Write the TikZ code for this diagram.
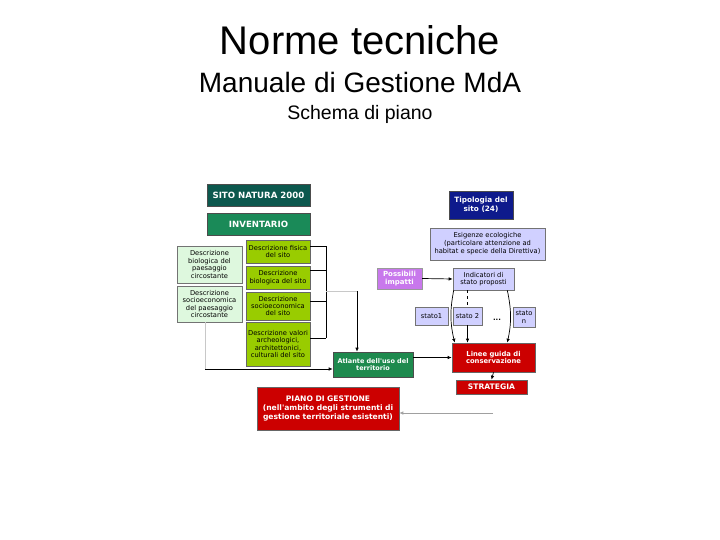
\documentclass[tikz,border=0pt]{standalone}
\usepackage{fontspec}
\setmainfont{Liberation Sans}
\newfontfamily\boxfont{DejaVu Sans}
\usetikzlibrary{positioning,arrows.meta}
\definecolor{sitoteal}{RGB}{12,88,78}
\definecolor{inventgreen}{RGB}{26,138,88}
\definecolor{mintfill}{RGB}{222,248,222}
\definecolor{limefill}{RGB}{153,204,0}
\definecolor{atlgreen}{RGB}{30,138,78}
\definecolor{pianored}{RGB}{204,0,0}
\definecolor{navyfill}{RGB}{14,26,140}
\definecolor{lavfill}{RGB}{208,208,255}
\definecolor{violetfill}{RGB}{200,120,236}
\definecolor{faintgray}{RGB}{200,200,200}
\newcommand{\smallfont}{\boxfont\fontsize{6.7}{7.4}\selectfont}
\newcommand{\boldfont}[1]{\boxfont\bfseries\fontsize{#1}{#1}\selectfont}

\begin{document}
\begin{tikzpicture}[x=1pt,y=-1pt]
	\useasboundingbox (0,0) rectangle (720,540);
	\tikzstyle{every node}=[inner sep=0.5pt, align=center]
	\draw (360,55) node (title) [anchor=base, font=\fontsize{40}{44}\selectfont]{Norme tecniche};
	\draw (360,92.5) node (subtitle) [anchor=base, font=\fontsize{28}{32}\selectfont]{Manuale di Gestione MdA};
	\draw (360,120) node (schema) [anchor=base, font=\fontsize{19.5}{22}\selectfont]{Schema di piano};
	\tikzstyle{darkbox}=[draw=black!70, text=white, line width=0.6pt]
	\tikzstyle{minibox}=[draw=black!55, fill=mintfill, font=\smallfont, line width=0.6pt]
	\tikzstyle{limebox}=[draw=black!60, fill=limefill, font=\smallfont, line width=0.6pt, minimum width=64pt, text width=63pt]
	\tikzstyle{lavbox}=[draw=black!55, fill=lavfill, font=\smallfont, line width=0.6pt]
	\tikzstyle{redbox}=[draw=black!60, fill=pianored, text=white, line width=0.6pt]
	\draw (258.5,195) node (sito) [darkbox, fill=sitoteal, minimum width=103pt, minimum height=22pt, font=\boldfont{8.6}]{SITO NATURA 2000};
	\draw (258.5,224) node (invent) [darkbox, fill=inventgreen, minimum width=103pt, minimum height=22pt, font=\boldfont{8.6}]{INVENTARIO};
	\draw (209.5,264.5) node (lbio) [minibox, minimum width=65pt, minimum height=37pt, text width=64pt]{Descrizione\\biologica del\\paesaggio\\circostante};
	\draw (209.5,304) node (lsocio) [minibox, minimum width=65pt, minimum height=36pt, text width=64pt]{Descrizione\\socioeconomica\\del paesaggio\\circostante};
	\draw (278,251.5) node (fisica) [limebox, minimum height=23pt]{Descrizione fisica\\del sito};
	\draw (278,277.5) node (bio) [limebox, minimum height=23pt]{Descrizione\\biologica del sito};
	\draw (278,306) node (socio) [limebox, minimum height=28pt]{Descrizione\\socioeconomica\\del sito};
	\draw (278,344) node (valori) [limebox, minimum height=44pt]{Descrizione valori\\archeologici,\\architettonici,\\culturali del sito};
	\draw (373,364.5) node (atlante) [darkbox, fill=atlgreen, minimum width=80pt, minimum height=25pt, text width=78pt, font=\boldfont{6.5}]{Atlante dell'uso del\\[1pt]territorio};
	\draw (328,408.5) node (piano) [redbox, minimum width=142pt, minimum height=43pt, text width=140pt, font=\boldfont{7.6}]{PIANO DI GESTIONE\\[1.5pt](nell'ambito degli strumenti di\\[1.5pt]gestione territoriale esistenti)};
	\draw (481,205) node (tipo) [darkbox, fill=navyfill, minimum width=64pt, minimum height=28pt, font=\boldfont{7.3}]{Tipologia del\\[1.5pt]sito (24)};
	\draw (487.5,244) node (esig) [lavbox, minimum width=115pt, minimum height=32pt, font=\boxfont\fontsize{6.7}{8}\selectfont]{Esigenze ecologiche\\(particolare attenzione ad\\habitat e specie della Direttiva)};
	\draw (399.5,278.5) node (poss) [draw=black!40, fill=violetfill, text=white, minimum width=45pt, minimum height=21pt, font=\boldfont{7}]{Possibili\\[1pt]impatti};
	\draw (483.5,279) node (indic) [lavbox, minimum width=61pt, minimum height=22pt]{Indicatori di\\stato proposti};
	\draw (431.5,316) node (stato1) [lavbox, minimum width=33pt, minimum height=18pt]{stato1};
	\draw (467.5,316) node (stato2) [lavbox, minimum width=29pt, minimum height=18pt]{stato 2};
	\draw (497,320) node (dots) [font=\boldfont{7}]{...};
	\draw (524,317) node (staton) [lavbox, minimum width=22pt, minimum height=20pt]{stato\\n};
	\draw (493.5,357.5) node (linee) [redbox, minimum width=83pt, minimum height=29pt, font=\boldfont{6.8}]{Linee guida di\\[1pt]conservazione};
	\draw (491.5,387) node (strat) [redbox, minimum width=71pt, minimum height=14pt, font=\boldfont{7.6}]{STRATEGIA};
	\tikzstyle{every node}=[inner sep=0pt]
	\tikzstyle{arr}=[-{Latex[length=4pt,width=3.5pt]}, line width=0.7pt]
	\coordinate (brktop) at (326,246);
	\coordinate (brkbot) at (326,338);
	\coordinate (brkmid) at (326,291);
	\coordinate (atldrop) at (357,291);
	\coordinate (lturn) at (205,369);
	\coordinate (pianoin) at (493,413);
	\draw [line width=0.7pt] (brktop) -- (brkbot);
	\draw [line width=0.7pt] ([yshift=5.5pt]fisica.east) -- (brktop);
	\draw [line width=0.7pt] ([yshift=7pt]bio.east) -| (brktop);
	\draw [line width=0.7pt] ([yshift=5pt]socio.east) -| (brktop);
	\draw [line width=0.7pt] ([yshift=6pt]valori.east) -- (brkbot);
	\draw [faintgray, line width=0.7pt] (brkmid) -- (atldrop);
	\draw [arr] (atldrop) -- (atldrop |- atlante.north);
	\draw [faintgray, line width=0.7pt] (lsocio.south -| lturn) -- (lturn);
	\draw [arr] (lturn) -- (lturn -| atlante.west);
	\draw [arr] (atlante.east |- linee.west) -- (linee.west);
	\draw [arr] (poss.east) -- (indic.west);
	\draw [arr] ([xshift=1pt]indic.south west) to[bend right=12] ([xshift=3pt]linee.north west);
	\draw [line width=0.7pt, dashed] (stato2.north |- indic.south) -- (stato2.north);
	\draw [arr] (stato2.south) -- (stato2.south |- linee.north);
	\draw [arr] ([xshift=-7pt]indic.south east) to[bend left=12] ([xshift=-28pt]linee.north east);
	\draw [arr] (linee.south) -- (strat.north);
	\draw [faintgray!80!black, line width=0.7pt, -{Latex[length=4pt,width=3.5pt]}] (pianoin) -- (pianoin -| piano.east);
\end{tikzpicture}
\end{document}
